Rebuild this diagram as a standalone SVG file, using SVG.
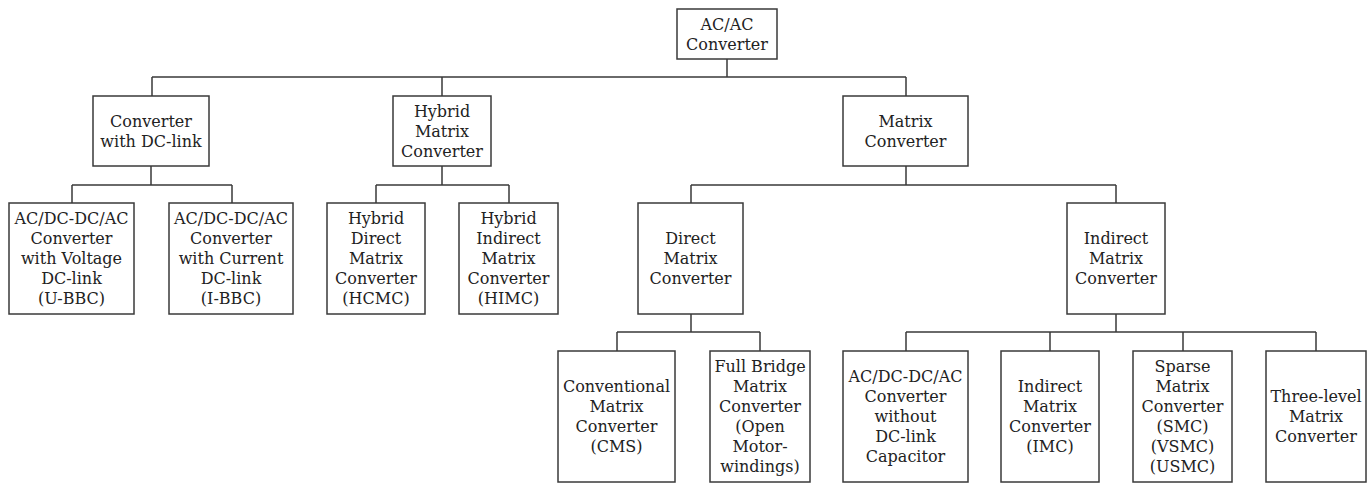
<svg xmlns="http://www.w3.org/2000/svg" width="1371" height="486" viewBox="0 0 1371 486">
  <style>
    .box { fill: #ffffff; stroke: #3a3a3a; stroke-width: 1.5; }
    .t { font-family: "DejaVu Serif", "Liberation Serif", serif; font-size: 16px; text-anchor: middle; fill: #222222; }
    .wire { fill: none; stroke: #3a3a3a; stroke-width: 1.5; }
  </style>
  <rect width="1371" height="486" fill="#ffffff"/>

  <!-- tree connectors -->
  <g id="connectors" class="wire">
    <path d="M727 59 V77 M152 77 H906 M152 77 V96 M442 77 V96 M906 77 V96"/>
    <path d="M151 166 V185 M72 185 H232 M72 185 V203 M232 185 V203"/>
    <path d="M442 166 V185 M376 185 H509 M376 185 V203 M509 185 V203"/>
    <path d="M906 166 V185 M691 185 H1116 M691 185 V203 M1116 185 V203"/>
    <path d="M691 314 V332 M617 332 H760 M617 332 V351 M760 332 V351"/>
    <path d="M1116 314 V332 M906 332 H1316 M906 332 V351 M1050 332 V351 M1183 332 V351 M1316 332 V351"/>
  </g>

  <!-- level 0 -->
  <g id="ac-ac">
    <rect class="box" x="677" y="9" width="100" height="50"/>
    <text class="t" y="29.5"><tspan x="727">AC/AC</tspan><tspan x="727" dy="20">Converter</tspan></text>
  </g>

  <!-- level 1 -->
  <g id="dc-link">
    <rect class="box" x="93" y="96" width="116" height="70"/>
    <text class="t" y="126.5"><tspan x="151">Converter</tspan><tspan x="151" dy="20">with DC-link</tspan></text>
  </g>
  <g id="hybrid">
    <rect class="box" x="393" y="96" width="98" height="70"/>
    <text class="t" y="116.5"><tspan x="442">Hybrid</tspan><tspan x="442" dy="20">Matrix</tspan><tspan x="442" dy="20">Converter</tspan></text>
  </g>
  <g id="matrix">
    <rect class="box" x="843" y="96" width="125" height="70"/>
    <text class="t" y="126.5"><tspan x="905.5">Matrix</tspan><tspan x="905.5" dy="20">Converter</tspan></text>
  </g>

  <!-- level 2 -->
  <g id="u-bbc">
    <rect class="box" x="9" y="203" width="125" height="111"/>
    <text class="t" y="224"><tspan x="71.5">AC/DC-DC/AC</tspan><tspan x="71.5" dy="20">Converter</tspan><tspan x="71.5" dy="20">with Voltage</tspan><tspan x="71.5" dy="20">DC-link</tspan><tspan x="71.5" dy="20">(U-BBC)</tspan></text>
  </g>
  <g id="i-bbc">
    <rect class="box" x="169" y="203" width="124" height="111"/>
    <text class="t" y="224"><tspan x="231">AC/DC-DC/AC</tspan><tspan x="231" dy="20">Converter</tspan><tspan x="231" dy="20">with Current</tspan><tspan x="231" dy="20">DC-link</tspan><tspan x="231" dy="20">(I-BBC)</tspan></text>
  </g>
  <g id="hcmc">
    <rect class="box" x="327" y="203" width="98" height="111"/>
    <text class="t" y="224"><tspan x="376">Hybrid</tspan><tspan x="376" dy="20">Direct</tspan><tspan x="376" dy="20">Matrix</tspan><tspan x="376" dy="20">Converter</tspan><tspan x="376" dy="20">(HCMC)</tspan></text>
  </g>
  <g id="himc">
    <rect class="box" x="459" y="203" width="99" height="111"/>
    <text class="t" y="224"><tspan x="508.5">Hybrid</tspan><tspan x="508.5" dy="20">Indirect</tspan><tspan x="508.5" dy="20">Matrix</tspan><tspan x="508.5" dy="20">Converter</tspan><tspan x="508.5" dy="20">(HIMC)</tspan></text>
  </g>
  <g id="direct">
    <rect class="box" x="638" y="203" width="105" height="111"/>
    <text class="t" y="244"><tspan x="690.5">Direct</tspan><tspan x="690.5" dy="20">Matrix</tspan><tspan x="690.5" dy="20">Converter</tspan></text>
  </g>
  <g id="indirect">
    <rect class="box" x="1067" y="203" width="98" height="111"/>
    <text class="t" y="244"><tspan x="1116">Indirect</tspan><tspan x="1116" dy="20">Matrix</tspan><tspan x="1116" dy="20">Converter</tspan></text>
  </g>

  <!-- level 3 -->
  <g id="cms">
    <rect class="box" x="558" y="351" width="117" height="131"/>
    <text class="t" y="392"><tspan x="616.5">Conventional</tspan><tspan x="616.5" dy="20">Matrix</tspan><tspan x="616.5" dy="20">Converter</tspan><tspan x="616.5" dy="20">(CMS)</tspan></text>
  </g>
  <g id="full-bridge">
    <rect class="box" x="710" y="351" width="100" height="131"/>
    <text class="t" y="372"><tspan x="760">Full Bridge</tspan><tspan x="760" dy="20">Matrix</tspan><tspan x="760" dy="20">Converter</tspan><tspan x="760" dy="20">(Open</tspan><tspan x="760" dy="20">Motor-</tspan><tspan x="760" dy="20">windings)</tspan></text>
  </g>
  <g id="no-dc-cap">
    <rect class="box" x="843" y="351" width="125" height="131"/>
    <text class="t" y="382"><tspan x="905.5">AC/DC-DC/AC</tspan><tspan x="905.5" dy="20">Converter</tspan><tspan x="905.5" dy="20">without</tspan><tspan x="905.5" dy="20">DC-link</tspan><tspan x="905.5" dy="20">Capacitor</tspan></text>
  </g>
  <g id="imc">
    <rect class="box" x="1001" y="351" width="98" height="131"/>
    <text class="t" y="392"><tspan x="1050">Indirect</tspan><tspan x="1050" dy="20">Matrix</tspan><tspan x="1050" dy="20">Converter</tspan><tspan x="1050" dy="20">(IMC)</tspan></text>
  </g>
  <g id="smc">
    <rect class="box" x="1133" y="351" width="99" height="131"/>
    <text class="t" y="372"><tspan x="1182.5">Sparse</tspan><tspan x="1182.5" dy="20">Matrix</tspan><tspan x="1182.5" dy="20">Converter</tspan><tspan x="1182.5" dy="20">(SMC)</tspan><tspan x="1182.5" dy="20">(VSMC)</tspan><tspan x="1182.5" dy="20">(USMC)</tspan></text>
  </g>
  <g id="three-level">
    <rect class="box" x="1266" y="351" width="100" height="131"/>
    <text class="t" y="402"><tspan x="1316">Three-level</tspan><tspan x="1316" dy="20">Matrix</tspan><tspan x="1316" dy="20">Converter</tspan></text>
  </g>
</svg>
